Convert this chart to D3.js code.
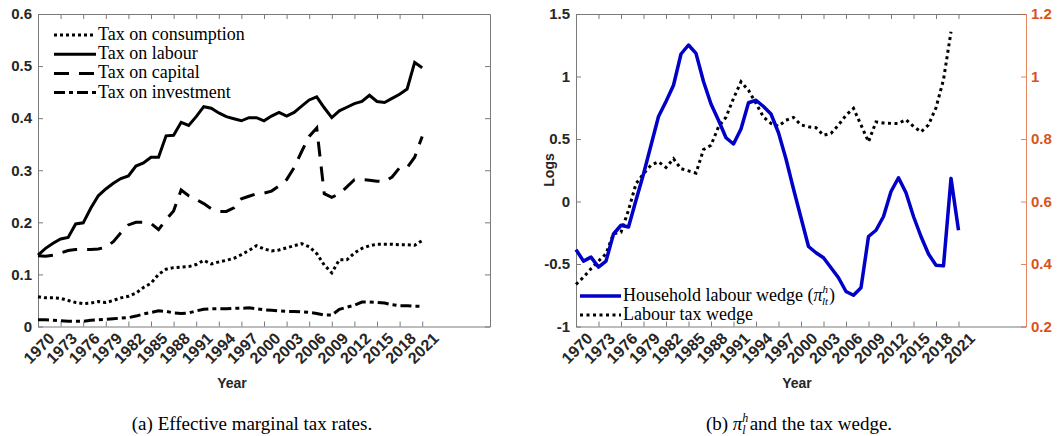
<!DOCTYPE html>
<html lang="en">
<head>
<meta charset="UTF-8">
<title>Tax rates and labour wedge</title>
<script src="https://d3js.org/d3.v7.min.js"></script>
<style>
    body { margin: 0; background: #fff; }
    .tick text { font-family: "Liberation Sans", Arial, sans-serif; font-weight: bold; }
</style>
</head>
<body>
<svg id="chart" width="1061" height="436"></svg>
<script>
    // years 1970..2021
    const years = d3.range(1970, 2022);
    const yearTicks = d3.range(1970, 2022, 3);

    // panel (a): effective marginal tax rates
    const taxConsumption = [0.057, 0.055, 0.055, 0.054, 0.050, 0.046, 0.044, 0.045, 0.048, 0.046,
        0.050, 0.055, 0.058, 0.064, 0.075, 0.083, 0.100, 0.110, 0.113, 0.114,
        0.115, 0.119, 0.127, 0.120, 0.124, 0.127, 0.131, 0.138, 0.146, 0.155,
        0.149, 0.145, 0.147, 0.151, 0.155, 0.159, 0.153, 0.140, 0.118, 0.103,
        0.128, 0.128, 0.141, 0.150, 0.155, 0.158, 0.158, 0.158, 0.157, 0.157,
        0.156, 0.165];
    const taxLabour = [0.137, 0.150, 0.160, 0.168, 0.171, 0.197, 0.199, 0.227, 0.251, 0.264,
        0.275, 0.284, 0.289, 0.308, 0.314, 0.325, 0.325, 0.366, 0.367, 0.392,
        0.386, 0.403, 0.422, 0.419, 0.410, 0.403, 0.399, 0.395, 0.401, 0.401,
        0.395, 0.404, 0.411, 0.404, 0.411, 0.423, 0.435, 0.441, 0.420, 0.401,
        0.414, 0.421, 0.428, 0.432, 0.444, 0.432, 0.430, 0.438, 0.446, 0.456,
        0.507, 0.497];
    const taxCapital = [0.136, 0.135, 0.137, 0.141, 0.146, 0.148, 0.148, 0.148, 0.149, 0.152,
        0.163, 0.180, 0.195, 0.200, 0.200, 0.198, 0.186, 0.205, 0.222, 0.262,
        0.251, 0.244, 0.236, 0.226, 0.221, 0.221, 0.228, 0.245, 0.250, 0.255,
        0.256, 0.260, 0.270, 0.282, 0.305, 0.336, 0.365, 0.381, 0.255, 0.248,
        0.255, 0.268, 0.282, 0.282, 0.281, 0.279, 0.278, 0.287, 0.305, 0.305,
        0.325, 0.365];
    const taxInvestment = [0.013, 0.013, 0.012, 0.011, 0.010, 0.010, 0.010, 0.012, 0.013, 0.014,
        0.015, 0.016, 0.017, 0.020, 0.024, 0.027, 0.030, 0.029, 0.026, 0.025,
        0.026, 0.030, 0.033, 0.034, 0.034, 0.034, 0.035, 0.035, 0.036, 0.034,
        0.032, 0.031, 0.030, 0.029, 0.029, 0.028, 0.027, 0.025, 0.022, 0.022,
        0.033, 0.037, 0.041, 0.047, 0.047, 0.046, 0.045, 0.042, 0.040, 0.040,
        0.039, 0.039];

    // panel (b): household labour wedge (left axis, logs) and labour tax wedge (right axis)
    const labourWedge = [-0.385, -0.477, -0.445, -0.525, -0.477, -0.260, -0.190, -0.204, 0.010, 0.220,
        0.450, 0.680, 0.800, 0.930, 1.180, 1.252, 1.185, 0.960, 0.780, 0.650,
        0.510, 0.460, 0.580, 0.790, 0.810, 0.760, 0.700, 0.550, 0.340, 0.100,
        -0.130, -0.360, -0.410, -0.450, -0.530, -0.610, -0.720, -0.750, -0.690, -0.280,
        -0.230, -0.120, 0.080, 0.190, 0.070, -0.120, -0.280, -0.420, -0.510, -0.515,
        0.185, -0.230];
    const taxWedgeYears = d3.range(1970, 2021);
    const taxWedge = [0.335, 0.358, 0.385, 0.409, 0.433, 0.497, 0.502, 0.572, 0.657, 0.689,
        0.716, 0.727, 0.709, 0.737, 0.705, 0.698, 0.691, 0.766, 0.780, 0.839,
        0.870, 0.930, 0.983, 0.956, 0.914, 0.870, 0.850, 0.841, 0.860, 0.869,
        0.845, 0.839, 0.836, 0.812, 0.818, 0.845, 0.876, 0.898, 0.845, 0.791,
        0.855, 0.851, 0.850, 0.850, 0.862, 0.840, 0.823, 0.845, 0.900, 0.990,
        1.143];

    const leftTicks = [0, 0.1, 0.2, 0.3, 0.4, 0.5, 0.6];
    const logTicks = [-1, -0.5, 0, 0.5, 1, 1.5];
    const wedgeTicks = [0.2, 0.4, 0.6, 0.8, 1, 1.2];

    const svg = d3.select('#chart');
    const frameColor = '#7a7a7a';
    const orange = '#D95319';
    const blue = '#0000C8';
    const serif = '"Liberation Serif", "Times New Roman", serif';
    const sans = '"Liberation Sans", Arial, sans-serif';

    const plotTop = 14, plotBottom = 326.5;

    function panel(x0, x1, yDomain, yTickVals, yFmt) {
        const x = d3.scaleLinear().domain([1970, 2030]).range([x0, x1]);
        const y = d3.scaleLinear().domain(yDomain).range([plotBottom, plotTop]);
        const g = svg.append('g');

        // bottom and top axes with inward ticks
        const xb = g.append('g')
            .attr('transform', `translate(0,${plotBottom})`)
            .call(d3.axisBottom(x).tickValues(yearTicks).tickSize(-5).tickSizeOuter(0).tickFormat(d3.format('d')));
        xb.selectAll('text')
            .attr('font-size', 16)
            .attr('fill', '#262626')
            .attr('text-anchor', 'end')
            .attr('transform', 'translate(7,3) rotate(-45)')
            .attr('dy', '0.7em');
        g.append('g')
            .attr('transform', `translate(0,${plotTop})`)
            .call(d3.axisTop(x).tickValues(yearTicks).tickSize(-5).tickSizeOuter(0).tickFormat(''));

        const yl = g.append('g')
            .attr('transform', `translate(${x0},0)`)
            .call(d3.axisLeft(y).tickValues(yTickVals).tickSize(-5).tickSizeOuter(0).tickPadding(6).tickFormat(yFmt));
        yl.selectAll('text').attr('font-size', 15).attr('fill', '#262626');

        g.selectAll('.domain').attr('stroke', frameColor);
        g.selectAll('.tick line').attr('stroke', frameColor);
        return { g, x, y };
    }

    // ---------- panel (a)
    const a = panel(38, 490, [0, 0.6], leftTicks, d => d === 0 ? '0' : d3.format('.1f')(d));
    a.g.append('g')
        .attr('transform', 'translate(490,0)')
        .call(d3.axisRight(a.y).tickValues(leftTicks).tickSize(-5).tickSizeOuter(0).tickFormat(''))
        .call(s => s.selectAll('.domain, .tick line').attr('stroke', frameColor));

    const seriesA = [
        { name: 'Tax on consumption', values: taxConsumption, dash: '3,3' },
        { name: 'Tax on labour', values: taxLabour, dash: null },
        { name: 'Tax on capital', values: taxCapital, dash: '15,10' },
        { name: 'Tax on investment', values: taxInvestment, dash: '11,4,4,4' }
    ];
    const lineA = d3.line().x((d, i) => a.x(years[i])).y(d => a.y(d));
    seriesA.forEach((s, k) => {
        a.g.append('path')
            .attr('d', lineA(s.values))
            .attr('fill', 'none')
            .attr('stroke', '#000')
            .attr('stroke-width', 3)
            .attr('stroke-dasharray', s.dash);
        const ly = 35 + k * 19.2;
        a.g.append('line')
            .attr('x1', 54).attr('x2', 96).attr('y1', ly).attr('y2', ly)
            .attr('stroke', '#000').attr('stroke-width', 3)
            .attr('stroke-dasharray', s.dash);
        a.g.append('text')
            .attr('x', 98).attr('y', ly + 5)
            .attr('font-family', serif).attr('font-size', 18)
            .text(s.name);
    });

    svg.append('text')
        .attr('x', 232).attr('y', 388)
        .attr('text-anchor', 'middle')
        .attr('font-family', sans).attr('font-weight', 'bold').attr('font-size', 14)
        .attr('fill', '#262626')
        .text('Year');

    // ---------- panel (b)
    const b = panel(576, 1026, [-1, 1.5], logTicks, d => String(d));
    const yR = d3.scaleLinear().domain([0.2, 1.2]).range([plotBottom, plotTop]);
    const yr = b.g.append('g')
        .attr('transform', 'translate(1026,0)')
        .call(d3.axisRight(yR).tickValues(wedgeTicks).tickSize(-5).tickSizeOuter(0).tickPadding(5).tickFormat(d => String(d)));
    yr.selectAll('.domain, .tick line').attr('stroke', orange).attr('stroke-opacity', 0.7);
    yr.selectAll('text').attr('font-size', 15).attr('fill', orange);

    b.g.append('path')
        .attr('d', d3.line().x((d, i) => b.x(taxWedgeYears[i])).y(d => yR(d))(taxWedge))
        .attr('fill', 'none')
        .attr('stroke', '#000')
        .attr('stroke-width', 3)
        .attr('stroke-dasharray', '3,3.5');
    b.g.append('path')
        .attr('d', d3.line().x((d, i) => b.x(years[i])).y(d => b.y(d))(labourWedge))
        .attr('fill', 'none')
        .attr('stroke', blue)
        .attr('stroke-width', 3.5)
        .attr('stroke-linejoin', 'round');

    // legend (b)
    b.g.append('line')
        .attr('x1', 580).attr('x2', 621).attr('y1', 296).attr('y2', 296)
        .attr('stroke', blue).attr('stroke-width', 3.5);
    const t1 = b.g.append('text')
        .attr('x', 623).attr('y', 301)
        .attr('font-family', serif).attr('font-size', 18);
    t1.append('tspan').text('Household labour wedge (');
    t1.append('tspan').attr('font-style', 'italic').text('\u03c0');
    t1.append('tspan').attr('font-style', 'italic').attr('font-size', 11).attr('dy', -8).text('h');
    t1.append('tspan').attr('font-style', 'italic').attr('font-size', 11).attr('dx', -6).attr('dy', 12).text('lt');
    t1.append('tspan').attr('dx', 1).attr('dy', -4).text(')');

    b.g.append('line')
        .attr('x1', 580).attr('x2', 621).attr('y1', 315).attr('y2', 315)
        .attr('stroke', '#000').attr('stroke-width', 3).attr('stroke-dasharray', '3,3.5');
    b.g.append('text')
        .attr('x', 623).attr('y', 320)
        .attr('font-family', serif).attr('font-size', 18)
        .text('Labour tax wedge');

    svg.append('text')
        .attr('x', 797).attr('y', 388)
        .attr('text-anchor', 'middle')
        .attr('font-family', sans).attr('font-weight', 'bold').attr('font-size', 14)
        .attr('fill', '#262626')
        .text('Year');
    svg.append('text')
        .attr('transform', 'translate(554,170) rotate(-90)')
        .attr('text-anchor', 'middle')
        .attr('font-family', sans).attr('font-weight', 'bold').attr('font-size', 14)
        .attr('fill', '#262626')
        .text('Logs');

    // captions
    svg.append('text')
        .attr('x', 252).attr('y', 430)
        .attr('text-anchor', 'middle')
        .attr('font-family', serif).attr('font-size', 19)
        .text('(a) Effective marginal tax rates.');
    const cb = svg.append('text')
        .attr('x', 799).attr('y', 430)
        .attr('text-anchor', 'middle')
        .attr('font-family', serif).attr('font-size', 19);
    cb.append('tspan').text('(b) ');
    cb.append('tspan').attr('font-style', 'italic').text('\u03c0');
    cb.append('tspan').attr('font-style', 'italic').attr('font-size', 12).attr('dy', -8).text('h');
    cb.append('tspan').attr('font-style', 'italic').attr('font-size', 12).attr('dx', -6).attr('dy', 12).text('l');
    cb.append('tspan').attr('dx', 4).attr('dy', -4).text('and the tax wedge.');
</script>
</body>
</html>
